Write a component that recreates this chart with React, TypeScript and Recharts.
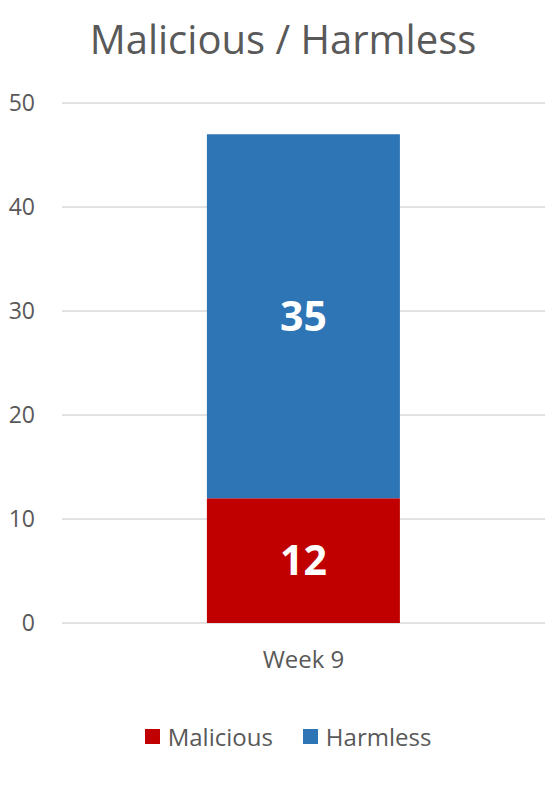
import React from "react";
import { Bar, BarChart, CartesianGrid, LabelList, Legend, XAxis, YAxis } from "recharts";

const weeks = ["Week 9"];
const malicious = [12];
const harmless = [35];
const yTicks = [0, 10, 20, 30, 40, 50];

const data = weeks.map((week, i) => ({
    week,
    malicious: malicious[i],
    harmless: harmless[i],
}));

const seriesInfo = [
    { key: "malicious", name: "Malicious", color: "#c00000" },
    { key: "harmless", name: "Harmless", color: "#2e75b6" },
];

const textColor = "#595959";
const font = "'Open Sans', sans-serif";

// legend drawn in the Excel order (Malicious first)
const renderLegend = () => (
    <div style={{ display: "flex", justifyContent: "center", alignItems: "center", gap: 30, paddingLeft: 18, fontSize: 24, color: textColor, fontFamily: font }}>
        {seriesInfo.map((s) => (
            <div key={s.key} style={{ display: "flex", alignItems: "center", gap: 8 }}>
                <span style={{ display: "inline-block", width: 15, height: 15, background: s.color }} />
                <span>{s.name}</span>
            </div>
        ))}
    </div>
);

export default function App() {
    return (
        <div style={{ position: "absolute", left: 0, top: 0, width: 558, height: 793, background: "#fff", fontFamily: font }}>
            <div
                style={{
                    position: "absolute",
                    top: 13,
                    left: 0,
                    width: 566,
                    textAlign: "center",
                    fontSize: 40,
                    color: textColor,
                    lineHeight: "52px",
                }}
            >
                Malicious / Harmless
            </div>
            <BarChart
                width={558}
                height={793}
                data={data}
                barCategoryGap="30%"
                margin={{ top: 103, right: 13, bottom: 80, left: 0 }}
            >
                <CartesianGrid vertical={false} stroke="#d9d9d9" strokeWidth={1.5} />
                <XAxis
                    dataKey="week"
                    axisLine={false}
                    tickLine={false}
                    height={60}
                    tickMargin={22}
                    tick={{ fill: textColor, fontSize: 24, fontFamily: font }}
                />
                <YAxis
                    domain={[0, 50]}
                    ticks={yTicks}
                    width={62}
                    axisLine={false}
                    tickLine={false}
                    tickMargin={21}
                    tick={{ fill: textColor, fontSize: 23, fontFamily: font }}
                />
                <Legend
                    verticalAlign="bottom"
                    content={renderLegend}
                    wrapperStyle={{ top: 720, left: 0, width: 558, height: 30 }}
                />
                {seriesInfo.map((s) => (
                    <Bar key={s.key} dataKey={s.key} name={s.name} stackId="a" fill={s.color} isAnimationActive={false}>
                        <LabelList dataKey={s.key} position="center" fill="#fff" fontSize={41} fontWeight="bold" fontFamily={font} />
                    </Bar>
                ))}
            </BarChart>
        </div>
    );
}
